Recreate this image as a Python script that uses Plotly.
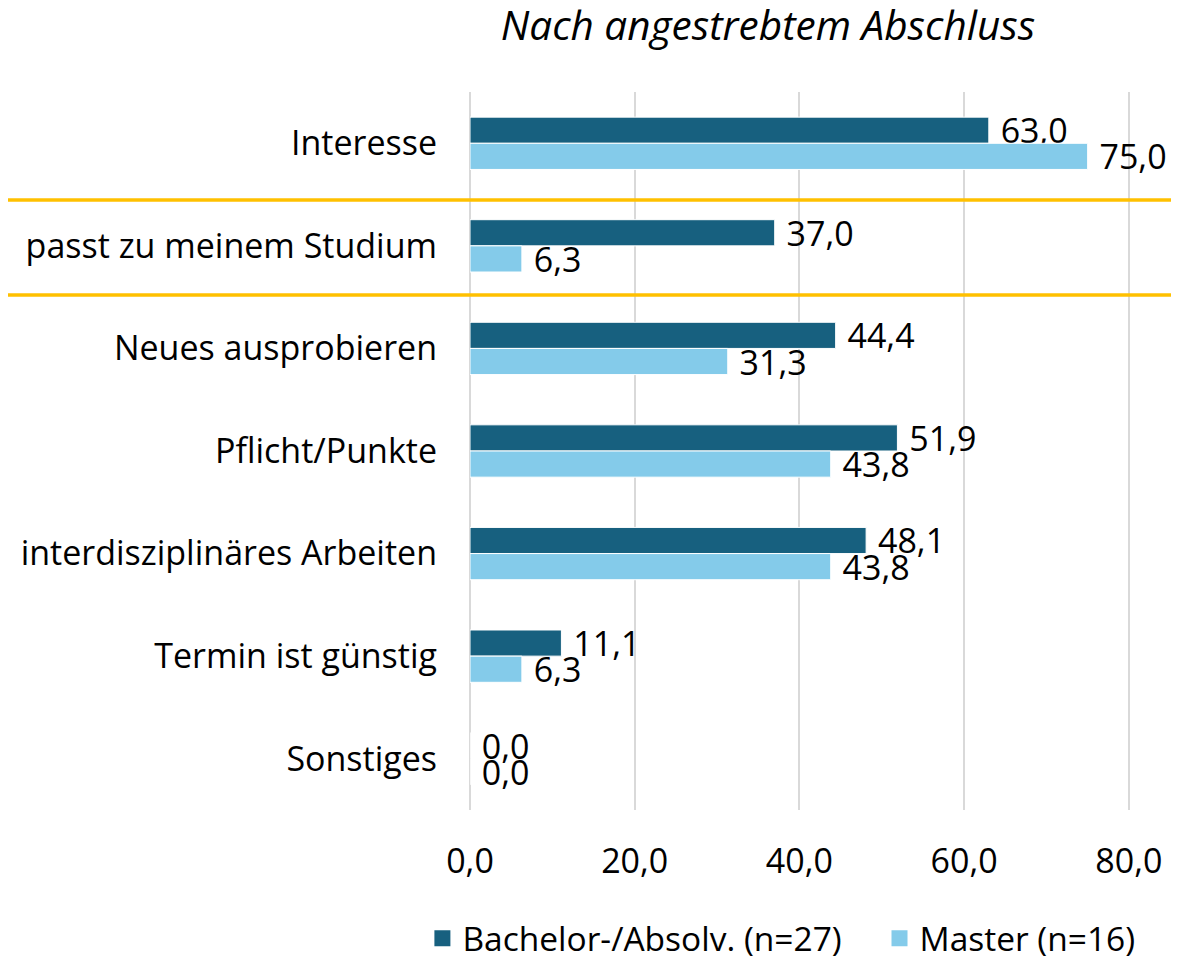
import plotly.graph_objects as go

categories = ["Interesse", "passt zu meinem Studium", "Neues ausprobieren", "Pflicht/Punkte",
              "interdisziplinäres Arbeiten", "Termin ist günstig", "Sonstiges"]
bachelor = [63.0, 37.0, 44.4, 51.9, 48.1, 11.1, 0.0]
master = [75.0, 6.3, 31.3, 43.8, 43.8, 6.3, 0.0]
series_names = ["Bachelor-/Absolv. (n=27)", "Master (n=16)"]
colors = ["#17607F", "#84CBEA"]
tick_vals = [0, 20, 40, 60, 80]

FONT = "Open Sans"
FS = 34
W, H = 1171, 953  # page body has an 8px margin
fig = go.Figure()
for name, vals, col in zip(series_names, [bachelor, master], colors):
    fig.add_trace(go.Bar(
        y=categories, x=vals, name=name, orientation="h", showlegend=False,
        marker=dict(color=col, line=dict(color="white", width=1)),
        texttemplate="\u00a0%{x:.1f}", textposition="outside", cliponaxis=False,
        constraintext="none",
        textfont=dict(size=FS, color="black", family=FONT),
    ))
for name, col, lg in zip(series_names, colors, ["legend", "legend2"]):
    fig.add_trace(go.Scatter(x=[None], y=[None], mode="markers", name=name, legend=lg,
                             marker=dict(symbol="square", size=21, color=col)))

L, R, T, B = 462, 9, 84, 151
leg_common = dict(orientation="h", xanchor="left", y=-0.179, yanchor="middle",
                  font=dict(size=33.5), itemwidth=30, bgcolor="rgba(0,0,0,0)")
fig.update_layout(
    width=W, height=H,
    margin=dict(l=L, r=R, t=T, b=B, autoexpand=False),
    separators=",.",
    barmode="group", bargap=0.49, bargroupgap=0.0,
    plot_bgcolor="white", paper_bgcolor="white",
    font=dict(family=FONT, size=FS, color="black"),
    title=dict(text="<i>Nach angestrebtem Abschluss</i>", x=0.649, xref="container", xanchor="center",
               y=0.981, yanchor="middle", font=dict(size=40.5, family=FONT)),
    showlegend=True,
    legend=dict(x=-0.068, **leg_common),
    legend2=dict(x=0.585, **leg_common),
    xaxis=dict(range=[0, 85], tickvals=tick_vals, tickformat=".1f", showgrid=True,
               gridcolor="#D9D9D9", gridwidth=2, zeroline=True, zerolinecolor="#D9D9D9",
               zerolinewidth=2, showline=False, ticks="", ticklabelstandoff=28,
               tickfont=dict(size=FS), automargin=False),
    yaxis=dict(autorange="reversed", showgrid=False, showline=False, ticks="",
               ticklabelstandoff=32, tickfont=dict(size=FS), automargin=False),
)

plot_w = W - L - R
for yv in [0.553, 1.478]:
    fig.add_shape(type="line", xref="paper", yref="y",
                  x0=-L / plot_w, x1=(W - L) / plot_w, y0=yv, y1=yv,
                  line=dict(color="#FFC000", width=3.5), layer="above")

fig.write_html("out.html")
